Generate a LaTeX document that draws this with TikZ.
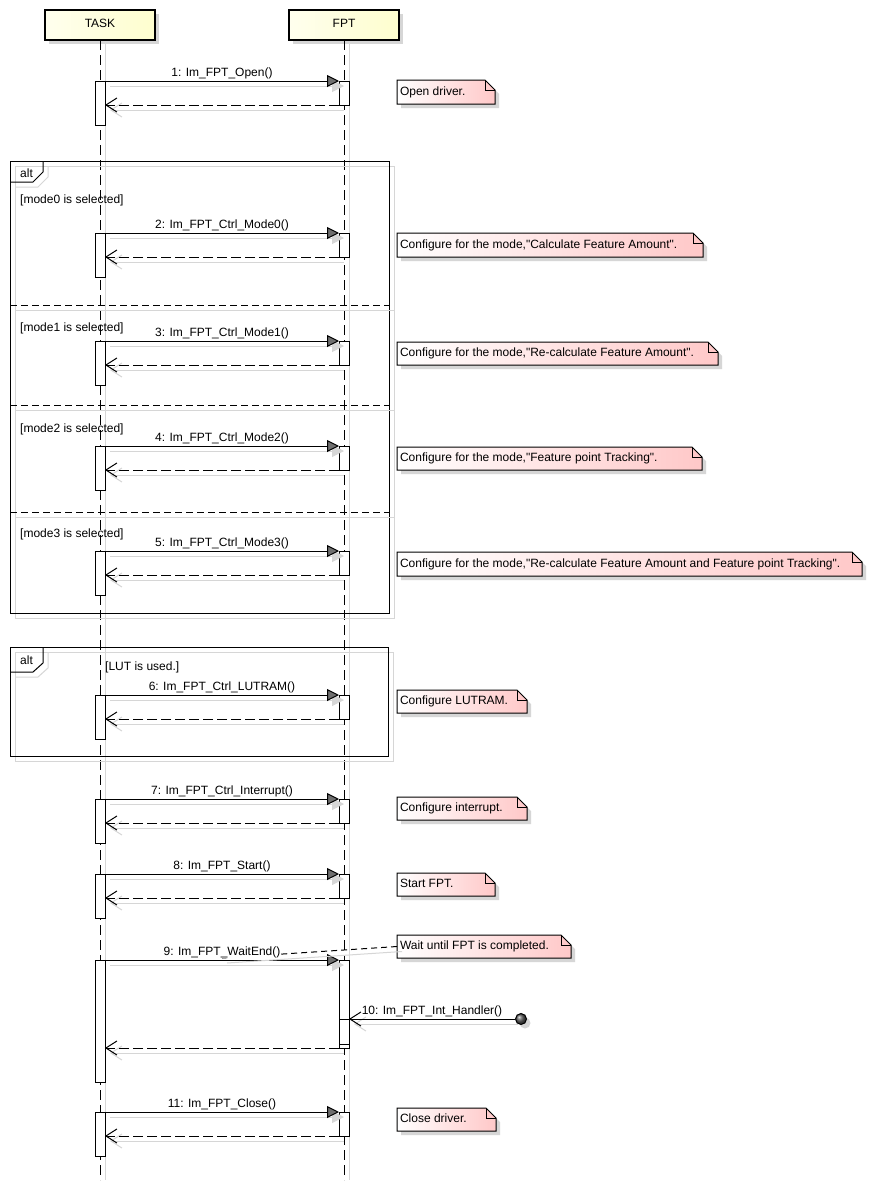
\documentclass[tikz,border=0pt]{standalone}
\usepackage{fontspec}
\setmainfont{Liberation Sans}[Ligatures=TeXOff]
\usetikzlibrary{arrows.meta,calc}
\definecolor{headc}{HTML}{FEFECE}
\definecolor{notec}{HTML}{FFC8C8}
\definecolor{shad}{HTML}{D6D6D6}
\definecolor{tipc}{HTML}{6E6E6E}
\newcommand{\actb}[4]{\node[actbox, minimum height={(#4)-(#3)}] (#1) at (#2,{((#3)+(#4))/2}) {};}
\newcommand{\msgs}[2]{%
 \draw[syncsh] ($(t#1.north east)+(5,5)$) -- ($(f#1.north west)+(5,5)$);
 \draw[retsh] ($(f#1.south west)+(5,5)$) -- ($(f#1.south west -| t#1.east)+(5,5)$);
 \draw[syncmsg] (t#1.north east) -- (f#1.north west);
 \node[lblmsg] (m#1) at ($(t#1.north east)!.5!(f#1.north west)+(0,-5)$) {#2};
 \draw[retmsg] (f#1.south west) -- (f#1.south west -| t#1.east);}
\newcommand{\call}[3]{\actb{t#1}{100}{#2}{#2+44}\actb{f#1}{344}{#2}{#2+24}\msgs{#1}{#3}}
\newcommand{\notebox}[6]{%
 \fill[shad] ({#2+4},{#3+4}) -- ({#4+4-10},{#3+4}) -- ({#4+4},{#3+14}) -- ({#4+4},{#5+4}) -- ({#2+4},{#5+4}) -- cycle;
 \path[draw, line width=1pt, left color=white, right color=notec] (#2,#3) -- ({#4-10},#3) -- (#4,{#3+10}) -- (#4,#5) -- (#2,#5) -- cycle;
 \draw[line width=1pt] ({#4-10},#3) -- ({#4-10},{#3+10}) -- (#4,{#3+10});
 \node[notetxt] (#1) at (#2,{(#3+#5)/2}) {#6};}
\begin{document}
\begin{tikzpicture}[x=1pt,y=-1pt,font=\fontsize{12}{14}\selectfont,
 headbox/.style={draw, line width=1.5pt, left color=headc!35!white, right color=headc, minimum width=110pt, minimum height=30pt, inner sep=0pt, outer sep=0pt},
 actbox/.style={draw, fill=white, line width=1pt, minimum width=10pt, inner sep=0pt, outer sep=0pt},
 lifeln/.style={line width=1pt, dash pattern=on 10pt off 5pt},
 lifesh/.style={shad, line width=1pt},
 syncmsg/.style={line width=1pt, -{Triangle[length=12pt,width=12pt,fill=tipc]}},
 syncsh/.style={shad, line width=1pt, -{Triangle[length=12pt,width=12pt,fill=shad]}},
 retmsg/.style={line width=1pt, dash pattern=on 10pt off 4pt, -{Straight Barb[length=11pt,width=14pt]}},
 retsh/.style={shad, line width=1pt, -{Straight Barb[length=11pt,width=14pt]}},
 foundmsg/.style={line width=1pt, -{Straight Barb[length=11pt,width=14pt]}},
 lblmsg/.style={anchor=base, inner sep=0pt},
 notetxt/.style={anchor=west, inner xsep=3pt, inner ysep=0pt, text height=9pt, text depth=3pt, outer sep=0pt},
 guard/.style={anchor=base west, inner sep=0pt},
 framebox/.style={line width=1pt},
 frsh/.style={shad, line width=1pt},
 sepline/.style={line width=1pt, dash pattern=on 7pt off 4pt}]
\fill[white] (0,0) rectangle (873,1184);
\useasboundingbox (0,0) rectangle (873,1184);

% heads
\fill[shad] (49,14) rectangle (159,44);
\fill[shad] (293,14) rectangle (403,44);
\node[headbox] (task) at (100,25) {\raisebox{3.3pt}{TASK}};
\node[headbox] (fpt) at (344,25) {\raisebox{3.3pt}{FPT}};

% lifelines
\coordinate (taskend) at (100,1180);
\coordinate (fptend) at (344,1180);
\draw[lifesh] ($(task.south)+(5,4)$) -- ($(taskend)+(5,0)$);
\draw[lifesh] ($(fpt.south)+(5,4)$) -- ($(fptend)+(5,0)$);
\draw[lifeln] (task.south) -- (taskend);
\draw[lifeln] (fpt.south) -- (fptend);

% alt frame 1
\draw[frsh] (15,166) rectangle (394,618);
\draw[frsh] (15,187) -- (38,187) -- (48,177) -- (48,166);
\draw[framebox] (10,161) rectangle (389,613);
\draw[framebox] (10,182) -- (33,182) -- (43,172) -- (43,161);
\node[guard] (alt1) at (20,177) {alt};
\node[guard] (g0) at (20,203) {[mode0 is selected]};
\draw[frsh] (15,310) -- (394,310);
\draw[sepline] (10,305) -- (389,305);
\node[guard] (g1) at (20,331) {[mode1 is selected]};
\draw[frsh] (15,410) -- (394,410);
\draw[sepline] (10,405) -- (389,405);
\node[guard] (g2) at (20,432) {[mode2 is selected]};
\draw[frsh] (15,517) -- (394,517);
\draw[sepline] (10,512) -- (389,512);
\node[guard] (g3) at (20,537) {[mode3 is selected]};

% alt frame 2
\draw[frsh] (15,652) rectangle (393,761);
\draw[frsh] (15,677) -- (38,677) -- (48,668) -- (48,652);
\draw[framebox] (10,647) rectangle (388,756);
\draw[framebox] (10,672) -- (33,672) -- (43,663) -- (43,647);
\node[guard] (alt2) at (20,664) {alt};
\node[guard] (glut) at (105,670) {[LUT is used.]};

% messages
\call{1}{81}{1: Im\_FPT\_Open()}
\call{2}{233}{2: Im\_FPT\_Ctrl\_Mode0()}
\call{3}{341}{3: Im\_FPT\_Ctrl\_Mode1()}
\call{4}{446}{4: Im\_FPT\_Ctrl\_Mode2()}
\call{5}{551}{5: Im\_FPT\_Ctrl\_Mode3()}
\call{6}{695}{6: Im\_FPT\_Ctrl\_LUTRAM()}
\call{7}{799}{7: Im\_FPT\_Ctrl\_Interrupt()}
\call{8}{874}{8: Im\_FPT\_Start()}
\call{11}{1112}{11: Im\_FPT\_Close()}

% message 9 and 10
\actb{t9}{100}{960}{1082}
\actb{f9}{344}{960}{1048}
\actb{f10}{344}{1019}{1044}
\draw[syncsh] ($(t9.north east)+(5,5)$) -- ($(f9.north west)+(5,5)$);
\draw[retsh] ($(f9.south west)+(5,5)$) -- ($(f9.south west -| t9.east)+(5,5)$);
\draw[syncmsg] (t9.north east) -- (f9.north west);
\draw[retmsg] (f9.south west) -- (f9.south west -| t9.east);

% notes
\notebox{n1}{397}{80}{495}{104}{Open driver.}
\notebox{n2}{397}{233}{703}{257}{Configure for the mode,"Calculate Feature Amount".}
\notebox{n3}{397}{342}{718}{365}{Configure for the mode,"Re-calculate Feature Amount".}
\notebox{n4}{397}{447}{702}{470}{Configure for the mode,"Feature point Tracking".}
\notebox{n5}{397}{552}{862}{576}{Configure for the mode,"Re-calculate Feature Amount and Feature point Tracking".}
\notebox{n6}{397}{690}{527}{713}{Configure LUTRAM.}
\notebox{n7}{397}{797}{527}{820}{Configure interrupt.}
\notebox{n8}{397}{873}{495}{896}{Start FPT.}
\notebox{n9}{397}{935}{571}{958}{Wait until FPT is completed.}
\notebox{n11}{397}{1108}{496}{1131}{Close driver.}

% note 9 link and label of message 9
\coordinate (c9) at (222,958);
\draw[shad, line width=1pt] ($(n9.west)+(5,5)$) -- ($(c9)+(5,5)$);
\draw[line width=1pt, dash pattern=on 6pt off 4pt] (n9.west) -- (c9);
\node[lblmsg, fill=white, inner sep=1pt] (m9) at ($(t9.north east)!.5!(f9.north west)+(0,-5)$) {9: Im\_FPT\_WaitEnd()};

% found message 10
\fill[shad] (525,1023) circle (5.5);
\node[circle, draw, line width=1pt, minimum size=11pt, inner sep=0pt, shading=ball, ball color=gray!70!black] (src) at (521,1019) {};
\draw[retsh] ($(src.west)+(3,5)$) -- ($(f10.north east)+(5,5)$);
\draw[foundmsg] (src.west) -- (f10.north east);
\node[lblmsg] (m10) at ($(src.west)!.5!(f10.north east)+(0,-5)$) {10: Im\_FPT\_Int\_Handler()};
\end{tikzpicture}
\end{document}
